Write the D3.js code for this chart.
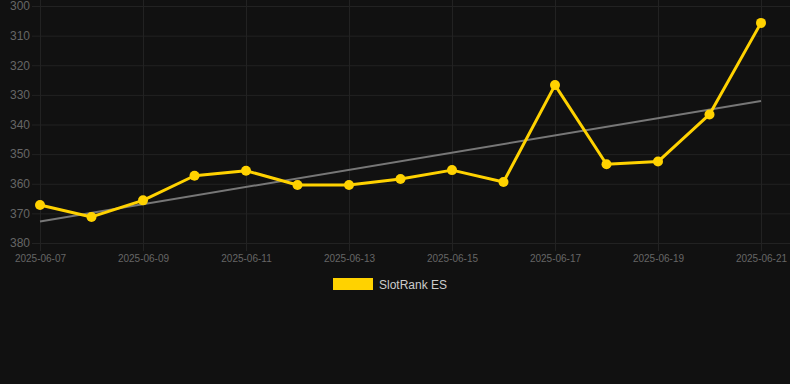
<!DOCTYPE html>
<html>
<head>
<meta charset="utf-8">
<script src="https://cdn.jsdelivr.net/npm/d3@7"></script>
<style>
  html, body { margin: 0; padding: 0; background: #111111; }
  svg { display: block; font-family: "Liberation Sans", Arial, sans-serif; }
</style>
</head>
<body>
<div id="container"></div>
<script>
// data
const dates = ["2025-06-07", "2025-06-08", "2025-06-09", "2025-06-10", "2025-06-11",
    "2025-06-12", "2025-06-13", "2025-06-14", "2025-06-15", "2025-06-16",
    "2025-06-17", "2025-06-18", "2025-06-19", "2025-06-20", "2025-06-21"];
const ranks = [367.2, 371.2, 365.6, 357.3, 355.6, 360.4, 360.4, 358.4, 355.4, 359.4,
    326.7, 353.4, 352.5, 336.6, 305.7];
const yTicks = [300, 310, 320, 330, 340, 350, 360, 370, 380];
const xTickLabels = ["2025-06-07", "2025-06-09", "2025-06-11", "2025-06-13",
    "2025-06-15", "2025-06-17", "2025-06-19", "2025-06-21"];
const seriesName = "SlotRank ES";

const W = 790, H = 384;
const margin = { top: 6, right: 29, bottom: 141, left: 40 };
const width = W - margin.left - margin.right,
    height = H - margin.top - margin.bottom;

const parse = d3.timeParse("%Y-%m-%d");
const data = dates.map((d, i) => ({ date: parse(d), rank: ranks[i] }));

const svg = d3.select("#container")
    .append("svg")
    .attr("width", W)
    .attr("height", H);

svg.append("rect").attr("width", W).attr("height", H).attr("fill", "#111111");

const g = svg.append("g")
    .attr("transform", `translate(${margin.left}, ${margin.top})`);

const x = d3.scaleTime()
    .domain(d3.extent(data, d => d.date))
    .range([0, width]);

// rank axis is reversed: 300 at the top
const y = d3.scaleLinear()
    .domain([300, 380])
    .range([0, height]);

const gridColor = "#222222";

// horizontal grid
g.append("g")
    .selectAll("line")
    .data(yTicks)
    .enter()
    .append("line")
    .attr("x1", -8)
    .attr("x2", W - margin.left)
    .attr("y1", d => y(d) + 0.5)
    .attr("y2", d => y(d) + 0.5)
    .attr("stroke", gridColor)
    .attr("stroke-width", 1);

// vertical grid
const xTicks = xTickLabels.map(parse);
g.append("g")
    .selectAll("line")
    .data(xTicks)
    .enter()
    .append("line")
    .attr("x1", d => Math.round(x(d)) + 0.5)
    .attr("x2", d => Math.round(x(d)) + 0.5)
    .attr("y1", -margin.top)
    .attr("y2", height + 8)
    .attr("stroke", gridColor)
    .attr("stroke-width", 1);

// Y axis labels
const yAxis = g.append("g")
    .call(d3.axisLeft(y).tickValues(yTicks).tickSize(0).tickPadding(10));
yAxis.select(".domain").remove();
yAxis.selectAll("text")
    .attr("fill", "#666666")
    .style("font-size", "12px")
    .style("font-family", "Liberation Sans, Arial, sans-serif");

// X axis labels
const xAxis = g.append("g")
    .attr("transform", `translate(0, ${height})`)
    .call(d3.axisBottom(x).tickValues(xTicks).tickFormat(d3.timeFormat("%Y-%m-%d")).tickSize(0).tickPadding(12));
xAxis.select(".domain").remove();
xAxis.selectAll("text")
    .attr("fill", "#666666")
    .style("font-size", "10px")
    .style("font-family", "Liberation Sans, Arial, sans-serif");

// trend line (least squares fit of the ranks)
const n = data.length;
const xs = d3.range(n);
const mx = d3.mean(xs), my = d3.mean(ranks);
const slope = d3.sum(xs, i => (i - mx) * (ranks[i] - my)) / d3.sum(xs, i => (i - mx) * (i - mx));
const icpt = my - slope * mx;
g.append("line")
    .attr("x1", x(data[0].date))
    .attr("y1", y(icpt))
    .attr("x2", x(data[n - 1].date))
    .attr("y2", y(icpt + slope * (n - 1)))
    .attr("stroke", "#777777")
    .attr("stroke-width", 2);

// series line
const line = d3.line()
    .x(d => x(d.date))
    .y(d => y(d.rank));

const yellow = "#FFD200";

g.append("path")
    .datum(data)
    .attr("fill", "none")
    .attr("stroke", yellow)
    .attr("stroke-width", 3)
    .attr("stroke-linejoin", "round")
    .attr("d", line);

g.selectAll(".pt")
    .data(data)
    .enter()
    .append("circle")
    .attr("class", "pt")
    .attr("cx", d => x(d.date))
    .attr("cy", d => y(d.rank))
    .attr("r", 5)
    .attr("fill", yellow);

// legend
const legend = svg.append("g").attr("transform", "translate(333, 278)");
legend.append("rect")
    .attr("width", 40)
    .attr("height", 12)
    .attr("fill", yellow);
legend.append("text")
    .attr("x", 46)
    .attr("y", 10.5)
    .attr("fill", "#cccccc")
    .style("font-size", "12px")
    .text(seriesName);
</script>
</body>
</html>
